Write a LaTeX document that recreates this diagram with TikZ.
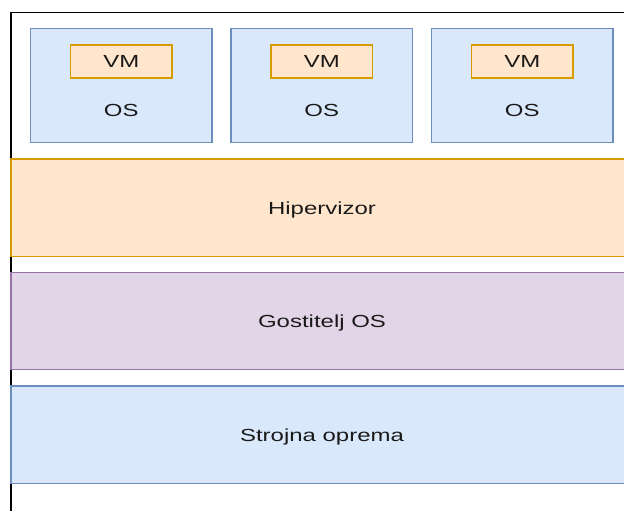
\documentclass[tikz,border=0pt]{standalone}
\usepackage{fontspec}
\setmainfont{Liberation Sans}[FakeStretch=1.37]
\definecolor{bluefill}{HTML}{DAE8FC}
\definecolor{bluedraw}{HTML}{6C8EBF}
\definecolor{orfill}{HTML}{FFE6CC}
\definecolor{ordraw}{HTML}{D79B00}
\definecolor{pufill}{HTML}{E1D5E7}
\definecolor{pudraw}{HTML}{9673A6}
\definecolor{txt}{HTML}{1A1A1A}
\begin{document}
\begin{tikzpicture}[x=1pt,y=-1pt,
  every node/.style={inner sep=0pt, text=txt, text height=12.6pt, text depth=0pt, font=\fontsize{17.5}{21}\selectfont},
  osbox/.style={draw=bluedraw, fill=bluefill, line width=1.3pt, minimum width=181.5pt, minimum height=114pt},
  vmbox/.style={draw=ordraw, fill=orfill, line width=1.3pt, minimum width=101.5pt, minimum height=33pt},
  layer/.style={line width=1.3pt, minimum width=622pt, minimum height=97.5pt},
  lbl/.style={}]
\useasboundingbox (0,0) rectangle (624,511);
\clip (0,0) rectangle (624,511);
\draw[line width=1.6pt, black] (11,12.5) rectangle (800,700);
% OS boxes
\node[osbox] (os1) at (121.25,85.5) {};
\node[osbox] (os2) at (321.75,85.5) {};
\node[osbox] (os3) at (522.25,85.5) {};
\node[vmbox] (vm1) at (121.25,61.5) {VM};
\node[vmbox] (vm2) at (321.75,61.5) {VM};
\node[vmbox] (vm3) at (522.25,61.5) {VM};
\node[lbl] (ost1) at (121.25,110.3) {OS};
\node[lbl] (ost2) at (321.75,110.3) {OS};
\node[lbl] (ost3) at (522.25,110.3) {OS};
% layers
\node[layer, draw=ordraw, fill=orfill] (hip) at (322,207.75) {Hipervizor};
\node[layer, draw=pudraw, fill=pufill] (gos) at (322,321) {Gostitelj OS};
\node[layer, draw=bluedraw, fill=bluefill] (str) at (322,434.75) {Strojna oprema};
\end{tikzpicture}
\end{document}
